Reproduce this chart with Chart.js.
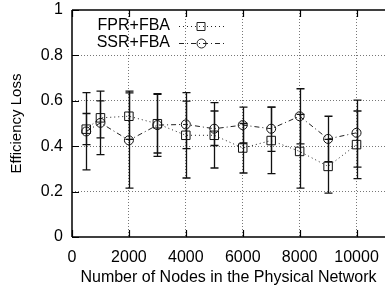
<!DOCTYPE html>
<html>
<head>
<meta charset="utf-8">
<script src="https://cdn.jsdelivr.net/npm/chart.js"></script>
<style>
html, body { margin: 0; padding: 0; background: #fff; overflow: hidden; }
#wrap { width: 387px; height: 291px; overflow: hidden; }
</style>
</head>
<body>
<div id="wrap"><canvas id="myChart" width="392" height="291"></canvas></div>
<script>
// number of nodes and the two series (mean, low, high of error bars)
const nodes = [500, 1000, 2000, 3000, 4000, 5000, 6000, 7000, 8000, 9000, 10000];
const fprMean = [0.475, 0.525, 0.532, 0.499, 0.448, 0.448, 0.392, 0.425, 0.377, 0.311, 0.407];
const fprLow  = [0.407, 0.437, 0.43, 0.37, 0.26, 0.304, 0.282, 0.279, 0.215, 0.193, 0.257];
const fprHigh = [0.544, 0.60, 0.635, 0.628, 0.636, 0.592, 0.50, 0.572, 0.54, 0.43, 0.555];
const ssrMean = [0.465, 0.503, 0.426, 0.493, 0.496, 0.477, 0.493, 0.477, 0.532, 0.432, 0.459];
const ssrLow  = [0.296, 0.363, 0.215, 0.355, 0.389, 0.403, 0.414, 0.377, 0.41, 0.332, 0.308];
const ssrHigh = [0.636, 0.643, 0.643, 0.632, 0.599, 0.555, 0.572, 0.572, 0.653, 0.532, 0.603];
const xTicks = [0, 2000, 4000, 6000, 8000, 10000];
const yTicks = [0, 0.2, 0.4, 0.6, 0.8, 1];

const FONT = '"Liberation Sans", Arial, sans-serif';
const ctx = document.getElementById('myChart');

const errorBars = {
    id: 'errorBars',
    afterDatasetsDraw(chart) {
        const c = chart.ctx;
        const xs = chart.scales.x, ys = chart.scales.y;
        const sets = [[fprLow, fprHigh], [ssrLow, ssrHigh]];
        c.save();
        c.strokeStyle = '#111';
        c.lineWidth = 1.3;
        sets.forEach(s => {
            for (let i = 0; i < nodes.length; i++) {
                const x = Math.round(xs.getPixelForValue(nodes[i])) + 0.5;
                const y1 = ys.getPixelForValue(s[0][i]);
                const y2 = ys.getPixelForValue(s[1][i]);
                c.beginPath();
                c.moveTo(x, y1); c.lineTo(x, y2);
                c.moveTo(x - 4, y1); c.lineTo(x + 4, y1);
                c.moveTo(x - 4, y2); c.lineTo(x + 4, y2);
                c.stroke();
            }
        });
        c.restore();
    }
};

const frame = {
    id: 'frame',
    afterDraw(chart) {
        const c = chart.ctx;
        const a = chart.chartArea;
        const xs = chart.scales.x, ys = chart.scales.y;
        c.save();
        c.strokeStyle = '#000';
        c.lineWidth = 1.5;
        c.beginPath();
        c.moveTo(a.left, a.top); c.lineTo(a.right, a.top);
        c.moveTo(a.left, a.top); c.lineTo(a.left, a.bottom);
        c.moveTo(a.left, a.bottom); c.lineTo(a.right, a.bottom);
        c.stroke();
        // inward tick marks
        c.lineWidth = 1.2;
        c.beginPath();
        xTicks.forEach(v => {
            const x = Math.round(xs.getPixelForValue(v)) + 0.5;
            c.moveTo(x, a.bottom); c.lineTo(x, a.bottom - 7);
            c.moveTo(x, a.top); c.lineTo(x, a.top + 7);
        });
        yTicks.forEach(v => {
            const y = Math.round(ys.getPixelForValue(v)) + 0.5;
            c.moveTo(a.left, y); c.lineTo(a.left + 7, y);
        });
        c.stroke();

        // legend: label on the left, sample on the right
        const rows = [26, 43];
        chart.data.datasets.forEach((ds, i) => {
            const y = rows[i];
            c.fillStyle = '#000';
            c.font = '16px ' + FONT;
            c.textAlign = 'right';
            c.textBaseline = 'middle';
            c.fillText(ds.label, 170, y);
            c.strokeStyle = ds.borderColor;
            c.lineWidth = 1;
            c.setLineDash(ds.borderDash);
            c.beginPath();
            c.moveTo(179, y + 0.5); c.lineTo(224, y + 0.5);
            c.stroke();
            c.setLineDash([]);
            c.beginPath();
            if (ds.pointStyle === 'rect') {
                c.rect(197, y - 3.5, 8, 8);
            } else {
                c.arc(201.5, y + 0.5, 4.5, 0, Math.PI * 2);
            }
            c.stroke();
        });
        c.restore();
    }
};

const gridColor = (ctx2) => {
    const v = ctx2.tick ? ctx2.tick.value : null;
    return (v === 0 || v === 1) ? 'rgba(0,0,0,0)' : '#777';
};

const myChart = new Chart(ctx, {
    type: 'line',
    data: {
        datasets: [{
            label: 'FPR+FBA',
            data: nodes.map((n, i) => ({x: n, y: fprMean[i]})),
            borderColor: '#222',
            borderWidth: 1,
            borderDash: [1, 3],
            pointStyle: 'rect',
            pointRadius: 6,
            pointBorderWidth: 1,
            pointBorderColor: '#111',
            pointBackgroundColor: 'rgba(0,0,0,0)',
            fill: false,
            tension: 0
        }, {
            label: 'SSR+FBA',
            data: nodes.map((n, i) => ({x: n, y: ssrMean[i]})),
            borderColor: '#222',
            borderWidth: 1,
            borderDash: [5, 3, 1, 3],
            pointStyle: 'circle',
            pointRadius: 4.5,
            pointBorderWidth: 1,
            pointBorderColor: '#111',
            pointBackgroundColor: 'rgba(0,0,0,0)',
            fill: false,
            tension: 0
        }]
    },
    options: {
        responsive: false,
        animation: false,
        devicePixelRatio: 1,
        layout: { padding: { top: 10, left: 0, right: 0, bottom: 0 } },
        plugins: {
            legend: { display: false },
            tooltip: { enabled: false }
        },
        scales: {
            x: {
                type: 'linear',
                min: 0,
                max: 11000,
                afterBuildTicks: s => { s.ticks = xTicks.map(v => ({value: v})); },
                afterFit: s => { s.height = 54; s.paddingLeft = 0; s.paddingRight = 0; },
                grid: { color: gridColor, lineWidth: 1, drawTicks: false },
                border: { display: false, dash: [1, 2] },
                ticks: {
                    color: '#000',
                    font: { family: FONT, size: 16 },
                    padding: 11,
                    maxRotation: 0,
                    callback: v => String(v)
                },
                title: {
                    display: true,
                    text: 'Number of Nodes in the Physical Network',
                    color: '#000',
                    font: { family: FONT, size: 16 },
                    padding: { top: 0, bottom: 4 }
                }
            },
            y: {
                min: 0,
                max: 1,
                afterBuildTicks: s => { s.ticks = yTicks.map(v => ({value: v})); },
                afterFit: s => { s.width = 72; s.paddingTop = 0; s.paddingBottom = 0; },
                grid: { color: gridColor, lineWidth: 1, drawTicks: false },
                border: { display: false, dash: [1, 2] },
                ticks: {
                    color: '#000',
                    font: { family: FONT, size: 16 },
                    padding: 9,
                    callback: v => String(v)
                },
                title: {
                    display: true,
                    text: 'Efficiency Loss',
                    color: '#000',
                    font: { family: FONT, size: 15 },
                    padding: { top: 8, bottom: 0 }
                }
            }
        }
    },
    plugins: [errorBars, frame]
});
</script>
</body>
</html>
